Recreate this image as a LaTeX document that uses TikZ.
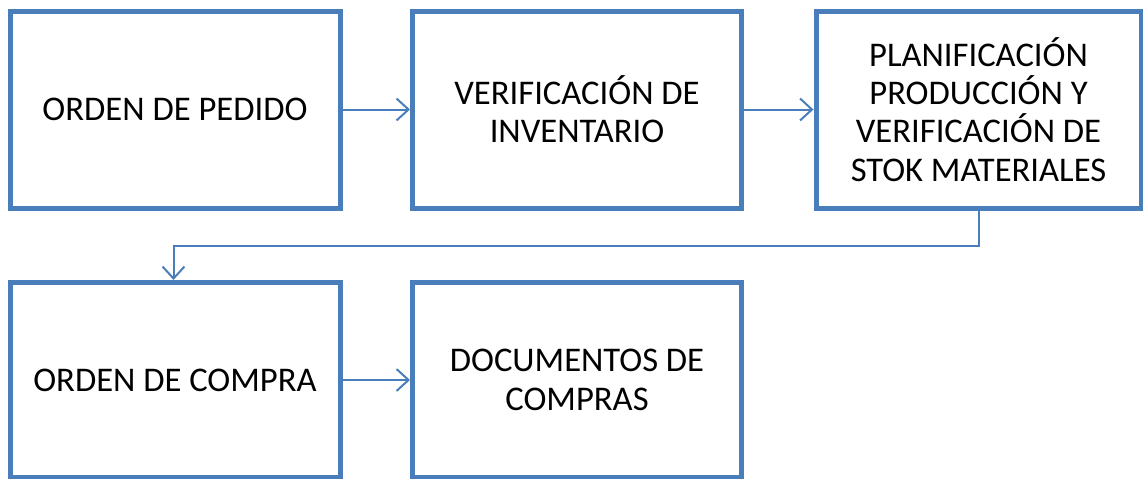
\documentclass[tikz,border=0pt]{standalone}
\usepackage{fontspec}
\setmainfont{Carlito}
\usetikzlibrary{arrows.meta}
\definecolor{boxblue}{HTML}{4A7EBB}
\begin{document}
\begin{tikzpicture}[x=1pt,y=1pt,
  stepbox/.style={draw=boxblue,line width=5pt,fill=white,align=center,font=\fontsize{34.6}{38.3}\selectfont,inner sep=0pt},
  conn/.style={draw=boxblue,line width=2pt,-{Straight Barb[length=12pt,width=22pt,line width=2pt]}}]
\useasboundingbox (0,0) rectangle (1143,-479);
\node[stepbox,minimum width=330pt,minimum height=197pt] (a) at (175,-109.5) {ORDEN DE PEDIDO};
\node[stepbox,minimum width=329pt,minimum height=197pt] (b) at (577,-109.5) {VERIFICACIÓN DE\\INVENTARIO};
\node[stepbox,minimum width=325pt,minimum height=197pt] (c) at (978.5,-109.5) {PLANIFICACIÓN\\PRODUCCIÓN Y\\VERIFICACIÓN DE\\STOK MATERIALES};
\node[stepbox,minimum width=330pt,minimum height=195pt] (d) at (175,-380) {ORDEN DE COMPRA};
\node[stepbox,minimum width=329pt,minimum height=195pt] (e) at (577,-380) {DOCUMENTOS DE\\COMPRAS};
\draw[conn] (a.east) -- (b.west);
\draw[conn] (b.east) -- (c.west);
\draw[conn] (c.south) |- (173.5,-246) -- (d.north -| 173.5,0);
\draw[conn] (d.east) -- (e.west);
\end{tikzpicture}
\end{document}
